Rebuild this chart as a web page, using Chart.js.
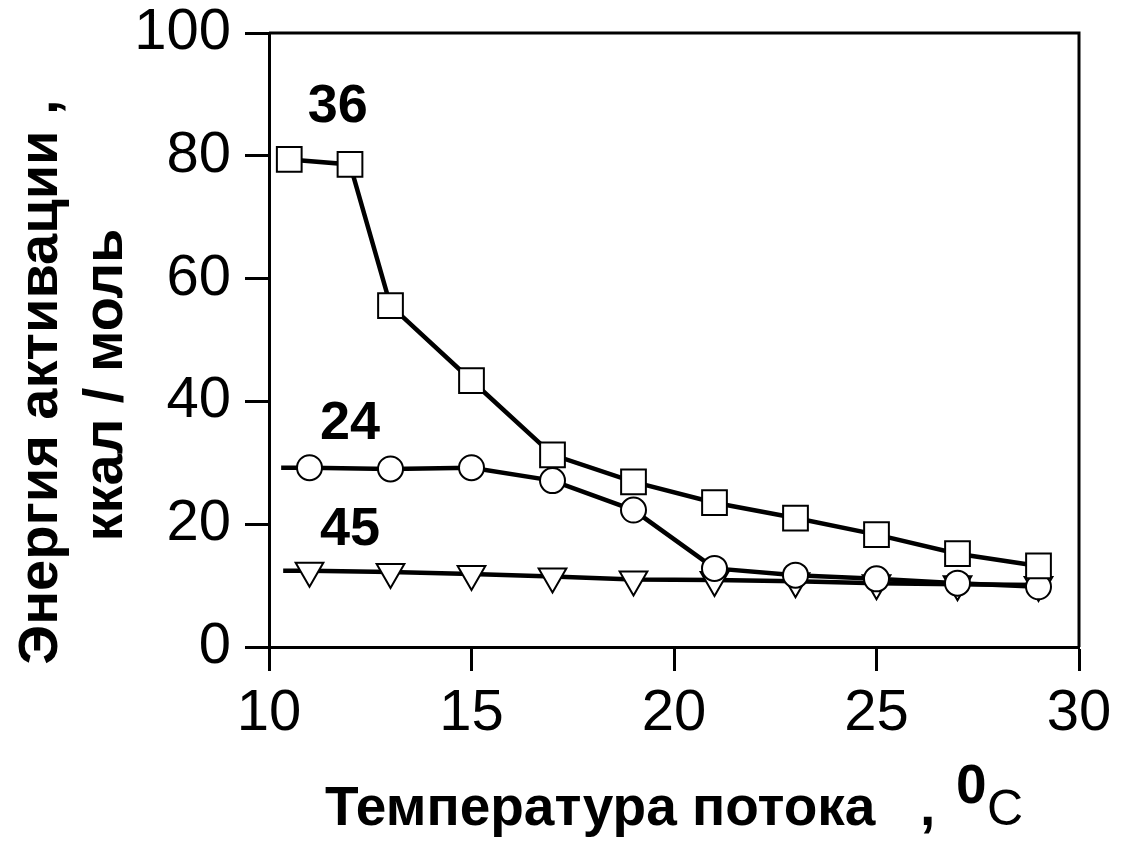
<!DOCTYPE html>
<html>
<head>
<meta charset="utf-8">
<script src="https://cdn.jsdelivr.net/npm/chart.js@4"></script>
<style>
  html, body { margin: 0; padding: 0; background: #fff; }
  #wrap { width: 1121px; height: 845px; }
</style>
</head>
<body>
<div id="wrap"><canvas id="chart"></canvas></div>
<script>
// series "36" (squares)
const x36 = [10.5, 12, 13, 15, 17, 19, 21, 23, 25, 27, 29];
const y36 = [79.4, 78.6, 55.6, 43.4, 31.3, 26.9, 23.5, 21.0, 18.3, 15.2, 13.2];
// series "24" (circles), first point is the bare line start
const x24 = [10.3, 11, 13, 15, 17, 19, 21, 23, 25, 27, 29];
const y24 = [29.2, 29.2, 29.0, 29.2, 27.1, 22.3, 12.8, 11.7, 11.1, 10.4, 9.8];
// series "45" (triangles)
const x45 = [10.35, 11, 13, 15, 17, 19, 21, 23, 25, 27, 29];
const y45 = [12.4, 12.4, 12.2, 11.9, 11.5, 11.0, 10.9, 10.7, 10.4, 10.2, 10.1];

const xTicks = [10, 15, 20, 25, 30];
const yTicks = [0, 20, 40, 60, 80, 100];
const seriesNames = ['36', '24', '45'];
const seriesLabelAt = [[11.7, 88.0], [12.0, 36.3], [12.0, 19.1]];

const FONT = "'Liberation Sans', Arial, sans-serif";

const pts = (xs, ys) => xs.map((x, i) => ({ x: x, y: ys[i] }));
// hide marker on the bare start point
const radii = (xs, r, bare) => xs.map((_, i) => (bare && i === 0 ? 0 : r));

const common = {
    borderColor: '#000',
    borderWidth: 4.5,
    pointBackgroundColor: '#fff',
    pointBorderColor: '#000',
    pointBorderWidth: 2,
    tension: 0,
    fill: false
};

const extras = {
    id: 'extras',
    afterDraw(chart) {
        const { ctx, chartArea: a, scales } = chart;
        ctx.save();
        // box: top and right edges
        ctx.strokeStyle = '#000';
        ctx.lineWidth = 3;
        ctx.beginPath();
        ctx.moveTo(a.left, a.top);
        ctx.lineTo(a.right, a.top);
        ctx.lineTo(a.right, a.bottom);
        ctx.stroke();

        ctx.fillStyle = '#000';
        // series labels
        ctx.font = 'bold 54px ' + FONT;
        ctx.textAlign = 'center';
        ctx.textBaseline = 'middle';
        seriesNames.forEach((s, i) => {
            ctx.fillText(s, scales.x.getPixelForValue(seriesLabelAt[i][0]),
                scales.y.getPixelForValue(seriesLabelAt[i][1]));
        });

        // y title, two rotated lines
        ctx.textBaseline = 'alphabetic';
        ctx.font = 'bold 56px ' + FONT;
        ctx.save();
        ctx.translate(57, 382);
        ctx.rotate(-Math.PI / 2);
        ctx.fillText('Энергия активации ,', 0, 0);
        ctx.restore();
        ctx.font = 'bold 56px ' + FONT;
        ctx.save();
        ctx.translate(122, 385);
        ctx.rotate(-Math.PI / 2);
        ctx.fillText('ккал / моль', 0, 0);
        ctx.restore();

        // x title with superscript zero
        ctx.textAlign = 'left';
        ctx.font = 'bold 55px ' + FONT;
        ctx.fillText('Температура потока', 325, 825);
        ctx.fillText(',', 920, 825);
        ctx.fillText('0', 956, 803);
        ctx.font = '50px ' + FONT;
        ctx.fillText('C', 987, 825);
        ctx.restore();
    }
};

new Chart(document.getElementById('chart'), {
    type: 'line',
    data: {
        datasets: [
            Object.assign({ label: '36', data: pts(x36, y36), pointStyle: 'rect', pointRadius: 17.5 }, common),
            Object.assign({ label: '24', data: pts(x24, y24), pointStyle: 'circle', pointRadius: radii(x24, 12.5, true) }, common),
            Object.assign({ label: '45', data: pts(x45, y45), pointStyle: 'triangle', rotation: 180, pointRadius: radii(x45, 16, true) }, common)
        ]
    },
    options: {
        responsive: true,
        maintainAspectRatio: false,
        animation: false,
        layout: { padding: { top: 33, right: 42, left: 0, bottom: 0 } },
        plugins: { legend: { display: false }, tooltip: { enabled: false } },
        scales: {
            x: {
                type: 'linear',
                min: 10,
                max: 30,
                afterBuildTicks: s => { s.ticks = xTicks.map(v => ({ value: v })); },
                afterFit: s => { s.height = 198; s.paddingLeft = 0; s.paddingRight = 0; },
                grid: { drawOnChartArea: false, tickLength: 24, tickWidth: 3, tickColor: '#000' },
                border: { color: '#000', width: 3 },
                ticks: { color: '#000', padding: 8, maxRotation: 0, font: { family: FONT, size: 58 } }
            },
            y: {
                min: 0,
                max: 100,
                afterBuildTicks: s => { s.ticks = yTicks.map(v => ({ value: v })); },
                afterFit: s => { s.width = 269; s.paddingTop = 0; s.paddingBottom = 0; },
                grid: { drawOnChartArea: false, tickLength: 24, tickWidth: 3, tickColor: '#000' },
                border: { color: '#000', width: 3 },
                ticks: { color: '#000', padding: 14, font: { family: FONT, size: 58 } }
            }
        }
    },
    plugins: [extras]
});
</script>
</body>
</html>
